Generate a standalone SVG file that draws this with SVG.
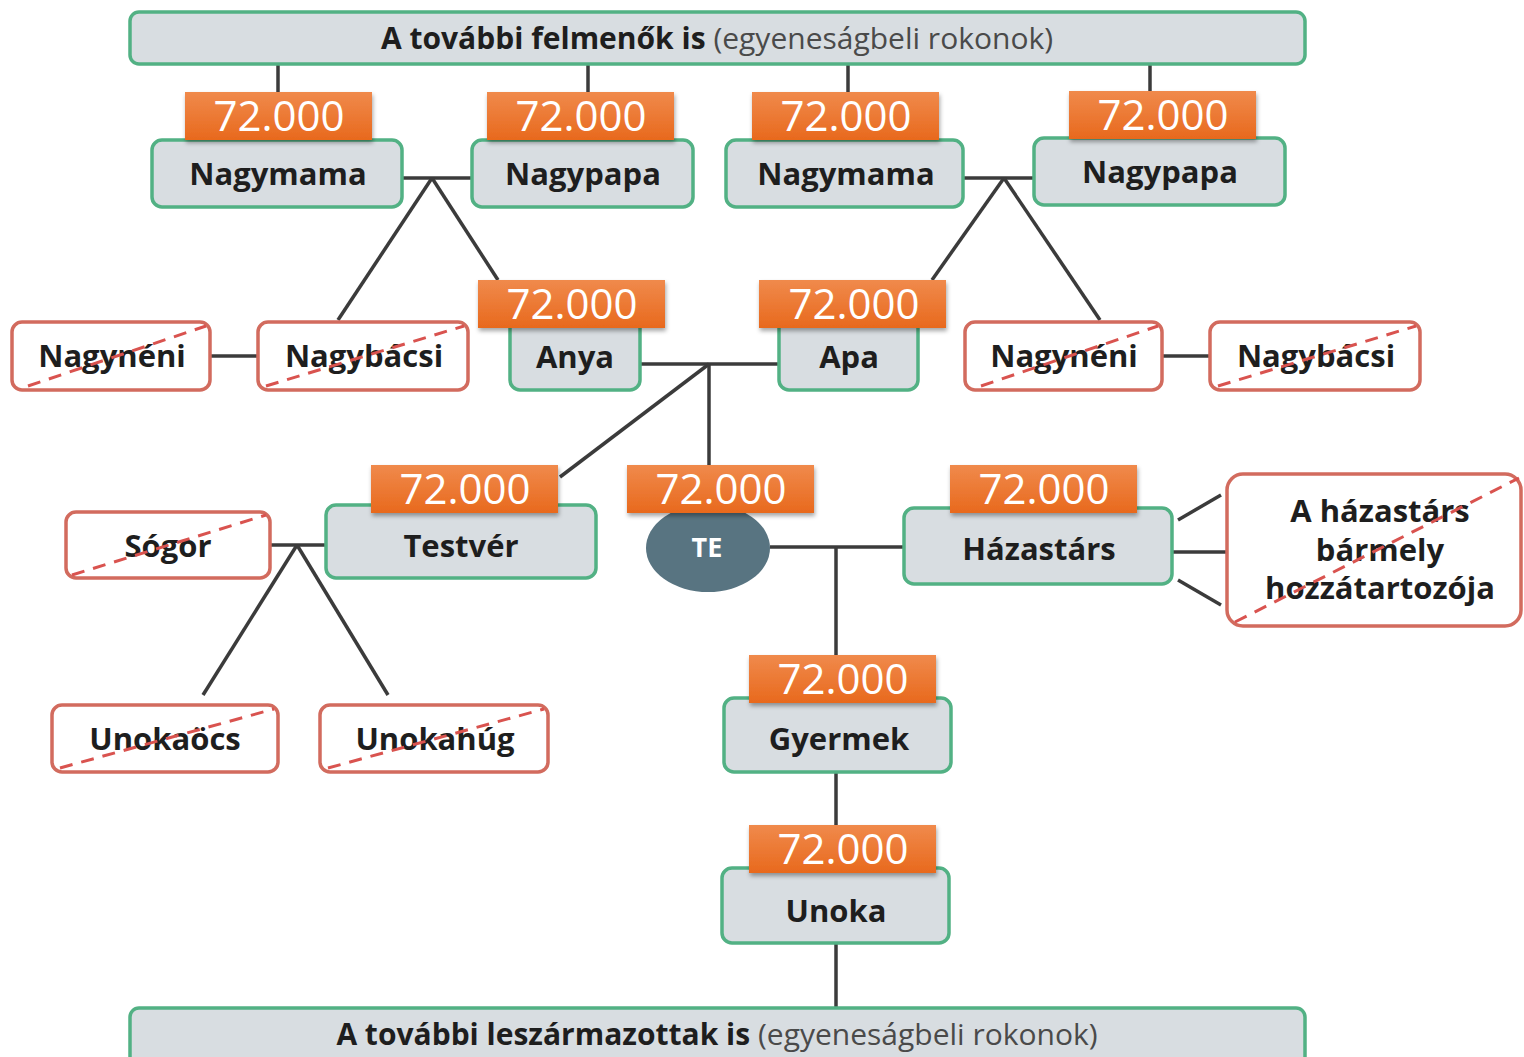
<svg xmlns="http://www.w3.org/2000/svg" width="1524" height="1057" viewBox="0 0 1524 1057">
<defs>
<linearGradient id="og" x1="0" y1="0" x2="0" y2="1">
<stop offset="0" stop-color="#f08a4c"/>
<stop offset="1" stop-color="#e8691d"/>
</linearGradient>
<filter id="sh" x="-10%" y="-20%" width="120%" height="150%">
<feDropShadow dx="1" dy="3" stdDeviation="2" flood-color="#000" flood-opacity="0.35"/>
</filter>
<style>
.g{fill:#d8dde1;stroke:#52b184;stroke-width:3.5}
.r{fill:#ffffff;stroke:#d26b5e;stroke-width:3.5}
.x{stroke:#d9534f;stroke-width:3;stroke-dasharray:13 9;fill:none}
.b{fill:url(#og);filter:url(#sh)}
.n{font-family:"Open Sans","Liberation Sans",sans-serif;font-size:42px;fill:#ffffff;text-anchor:middle}
.t{font-family:"Open Sans","Liberation Sans",sans-serif;font-weight:bold;font-size:31px;fill:#1e1e1e;text-anchor:middle}
.h{font-family:"Open Sans","Liberation Sans",sans-serif;font-size:30px;fill:#1e1e1e;text-anchor:middle}
.hb{font-weight:bold}
.hn{fill:#4a4a4a}
.c line{stroke:#3b3b3b;stroke-width:3.5}
</style>
</defs>
<rect width="1524" height="1057" fill="#ffffff"/>

<g id="connectors" class="c">
<line x1="278" y1="64" x2="278" y2="92"/>
<line x1="588" y1="64" x2="588" y2="92"/>
<line x1="848" y1="64" x2="848" y2="92"/>
<line x1="1150" y1="64" x2="1150" y2="91"/>
<line x1="402" y1="178" x2="472" y2="178"/>
<line x1="432" y1="178" x2="338" y2="320"/>
<line x1="432" y1="178" x2="498" y2="280"/>
<line x1="963" y1="178" x2="1034" y2="178"/>
<line x1="1004" y1="178" x2="932" y2="280"/>
<line x1="1004" y1="178" x2="1100" y2="320"/>
<line x1="210" y1="356" x2="258" y2="356"/>
<line x1="1162" y1="356" x2="1210" y2="356"/>
<line x1="640" y1="364" x2="779" y2="364"/>
<line x1="709" y1="364" x2="709" y2="465"/>
<line x1="709" y1="364" x2="560" y2="477"/>
<line x1="270" y1="545" x2="326" y2="545"/>
<line x1="297" y1="545" x2="203" y2="695"/>
<line x1="297" y1="545" x2="388" y2="695"/>
<line x1="770" y1="547" x2="904" y2="547"/>
<line x1="836" y1="547" x2="836" y2="655"/>
<line x1="1178" y1="520" x2="1221" y2="495"/>
<line x1="1172" y1="552" x2="1227" y2="552"/>
<line x1="1178" y1="580" x2="1221" y2="605"/>
<line x1="836" y1="772" x2="836" y2="825"/>
<line x1="836" y1="943" x2="836" y2="1008"/>
</g>

<g id="top-bar">
<rect class="g" x="130" y="12" width="1175" height="52" rx="9"/>
<text class="h" x="717" y="49"><tspan class="hb">A további felmenők is</tspan> <tspan class="hn">(egyeneságbeli rokonok)</tspan></text>
</g>

<g id="nagymama1">
<rect class="g" x="152" y="140" width="250" height="67" rx="10"/>
<text class="t" x="278" y="185">Nagymama</text>
<rect class="b" x="185" y="92" width="187" height="48"/>
<text class="n" x="279" y="131">72.000</text>
</g>

<g id="nagypapa1">
<rect class="g" x="472" y="140" width="221" height="67" rx="10"/>
<text class="t" x="583" y="185">Nagypapa</text>
<rect class="b" x="487" y="92" width="187" height="48"/>
<text class="n" x="581" y="131">72.000</text>
</g>

<g id="nagymama2">
<rect class="g" x="726" y="140" width="237" height="67" rx="10"/>
<text class="t" x="846" y="185">Nagymama</text>
<rect class="b" x="752" y="92" width="187" height="48"/>
<text class="n" x="846" y="131">72.000</text>
</g>

<g id="nagypapa2">
<rect class="g" x="1034" y="138" width="251" height="67" rx="10"/>
<text class="t" x="1160" y="183">Nagypapa</text>
<rect class="b" x="1069" y="91" width="187" height="48"/>
<text class="n" x="1163" y="130">72.000</text>
</g>

<g id="nagyneni1">
<rect class="r" x="12" y="322" width="198" height="68" rx="10"/>
<text class="t" x="112" y="367">Nagynéni</text>
<line class="x" x1="28" y1="386" x2="206" y2="326"/>
</g>

<g id="nagybacsi1">
<rect class="r" x="258" y="322" width="210" height="68" rx="10"/>
<text class="t" x="364" y="367">Nagybácsi</text>
<line class="x" x1="266" y1="386" x2="464" y2="326"/>
</g>

<g id="anya">
<rect class="g" x="510" y="318" width="130" height="72" rx="10"/>
<text class="t" x="575" y="368">Anya</text>
<rect class="b" x="478" y="280" width="187" height="48"/>
<text class="n" x="572" y="319">72.000</text>
</g>

<g id="apa">
<rect class="g" x="779" y="318" width="139" height="72" rx="10"/>
<text class="t" x="849" y="368">Apa</text>
<rect class="b" x="759" y="280" width="187" height="48"/>
<text class="n" x="854" y="319">72.000</text>
</g>

<g id="nagyneni2">
<rect class="r" x="965" y="322" width="197" height="68" rx="10"/>
<text class="t" x="1064" y="367">Nagynéni</text>
<line class="x" x1="981" y1="386" x2="1158" y2="326"/>
</g>

<g id="nagybacsi2">
<rect class="r" x="1210" y="322" width="210" height="68" rx="10"/>
<text class="t" x="1316" y="367">Nagybácsi</text>
<line class="x" x1="1218" y1="386" x2="1416" y2="326"/>
</g>

<g id="sogor">
<rect class="r" x="66" y="512" width="204" height="66" rx="10"/>
<text class="t" x="168" y="557">Sógor</text>
<line class="x" x1="72" y1="575" x2="266" y2="515"/>
</g>

<g id="testver">
<rect class="g" x="326" y="505" width="270" height="73" rx="10"/>
<text class="t" x="461" y="557">Testvér</text>
<rect class="b" x="371" y="465" width="187" height="48"/>
<text class="n" x="465" y="504">72.000</text>
</g>

<g id="te">
<ellipse cx="708" cy="548" rx="62" ry="44" fill="#587481"/>
<text x="707" y="557" font-family="Open Sans, Liberation Sans, sans-serif" font-weight="bold" font-size="27" fill="#ffffff" text-anchor="middle">TE</text>
<rect class="b" x="627" y="465" width="187" height="48"/>
<text class="n" x="721" y="504">72.000</text>
</g>

<g id="hazastars">
<rect class="g" x="904" y="508" width="268" height="76" rx="10"/>
<text class="t" x="1039" y="560">Házastárs</text>
<rect class="b" x="950" y="465" width="187" height="48"/>
<text class="n" x="1044" y="504">72.000</text>
</g>

<g id="hazastars-hozzatartozoja">
<rect class="r" x="1227" y="474" width="294" height="152" rx="16"/>
<text class="t" x="1380" y="522">A házastárs</text>
<text class="t" x="1380" y="561">bármely</text>
<text class="t" x="1380" y="599">hozzátartozója</text>
<line class="x" x1="1235" y1="622" x2="1519" y2="478"/>
</g>

<g id="unokaocs">
<rect class="r" x="52" y="705" width="226" height="67" rx="10"/>
<text class="t" x="165" y="750">Unokaöcs</text>
<line class="x" x1="60" y1="768" x2="274" y2="709"/>
</g>

<g id="unokahug">
<rect class="r" x="320" y="705" width="228" height="67" rx="10"/>
<text class="t" x="435" y="750">Unokahúg</text>
<line class="x" x1="328" y1="768" x2="544" y2="709"/>
</g>

<g id="gyermek">
<rect class="g" x="724" y="698" width="227" height="74" rx="10"/>
<text class="t" x="839" y="750">Gyermek</text>
<rect class="b" x="749" y="655" width="187" height="48"/>
<text class="n" x="843" y="694">72.000</text>
</g>

<g id="unoka">
<rect class="g" x="722" y="868" width="227" height="75" rx="10"/>
<text class="t" x="836" y="922">Unoka</text>
<rect class="b" x="749" y="825" width="187" height="48"/>
<text class="n" x="843" y="864">72.000</text>
</g>

<g id="bottom-bar">
<rect class="g" x="130" y="1008" width="1175" height="60" rx="9"/>
<text class="h" x="717" y="1045"><tspan class="hb">A további leszármazottak is</tspan> <tspan class="hn">(egyeneságbeli rokonok)</tspan></text>
</g>
</svg>
